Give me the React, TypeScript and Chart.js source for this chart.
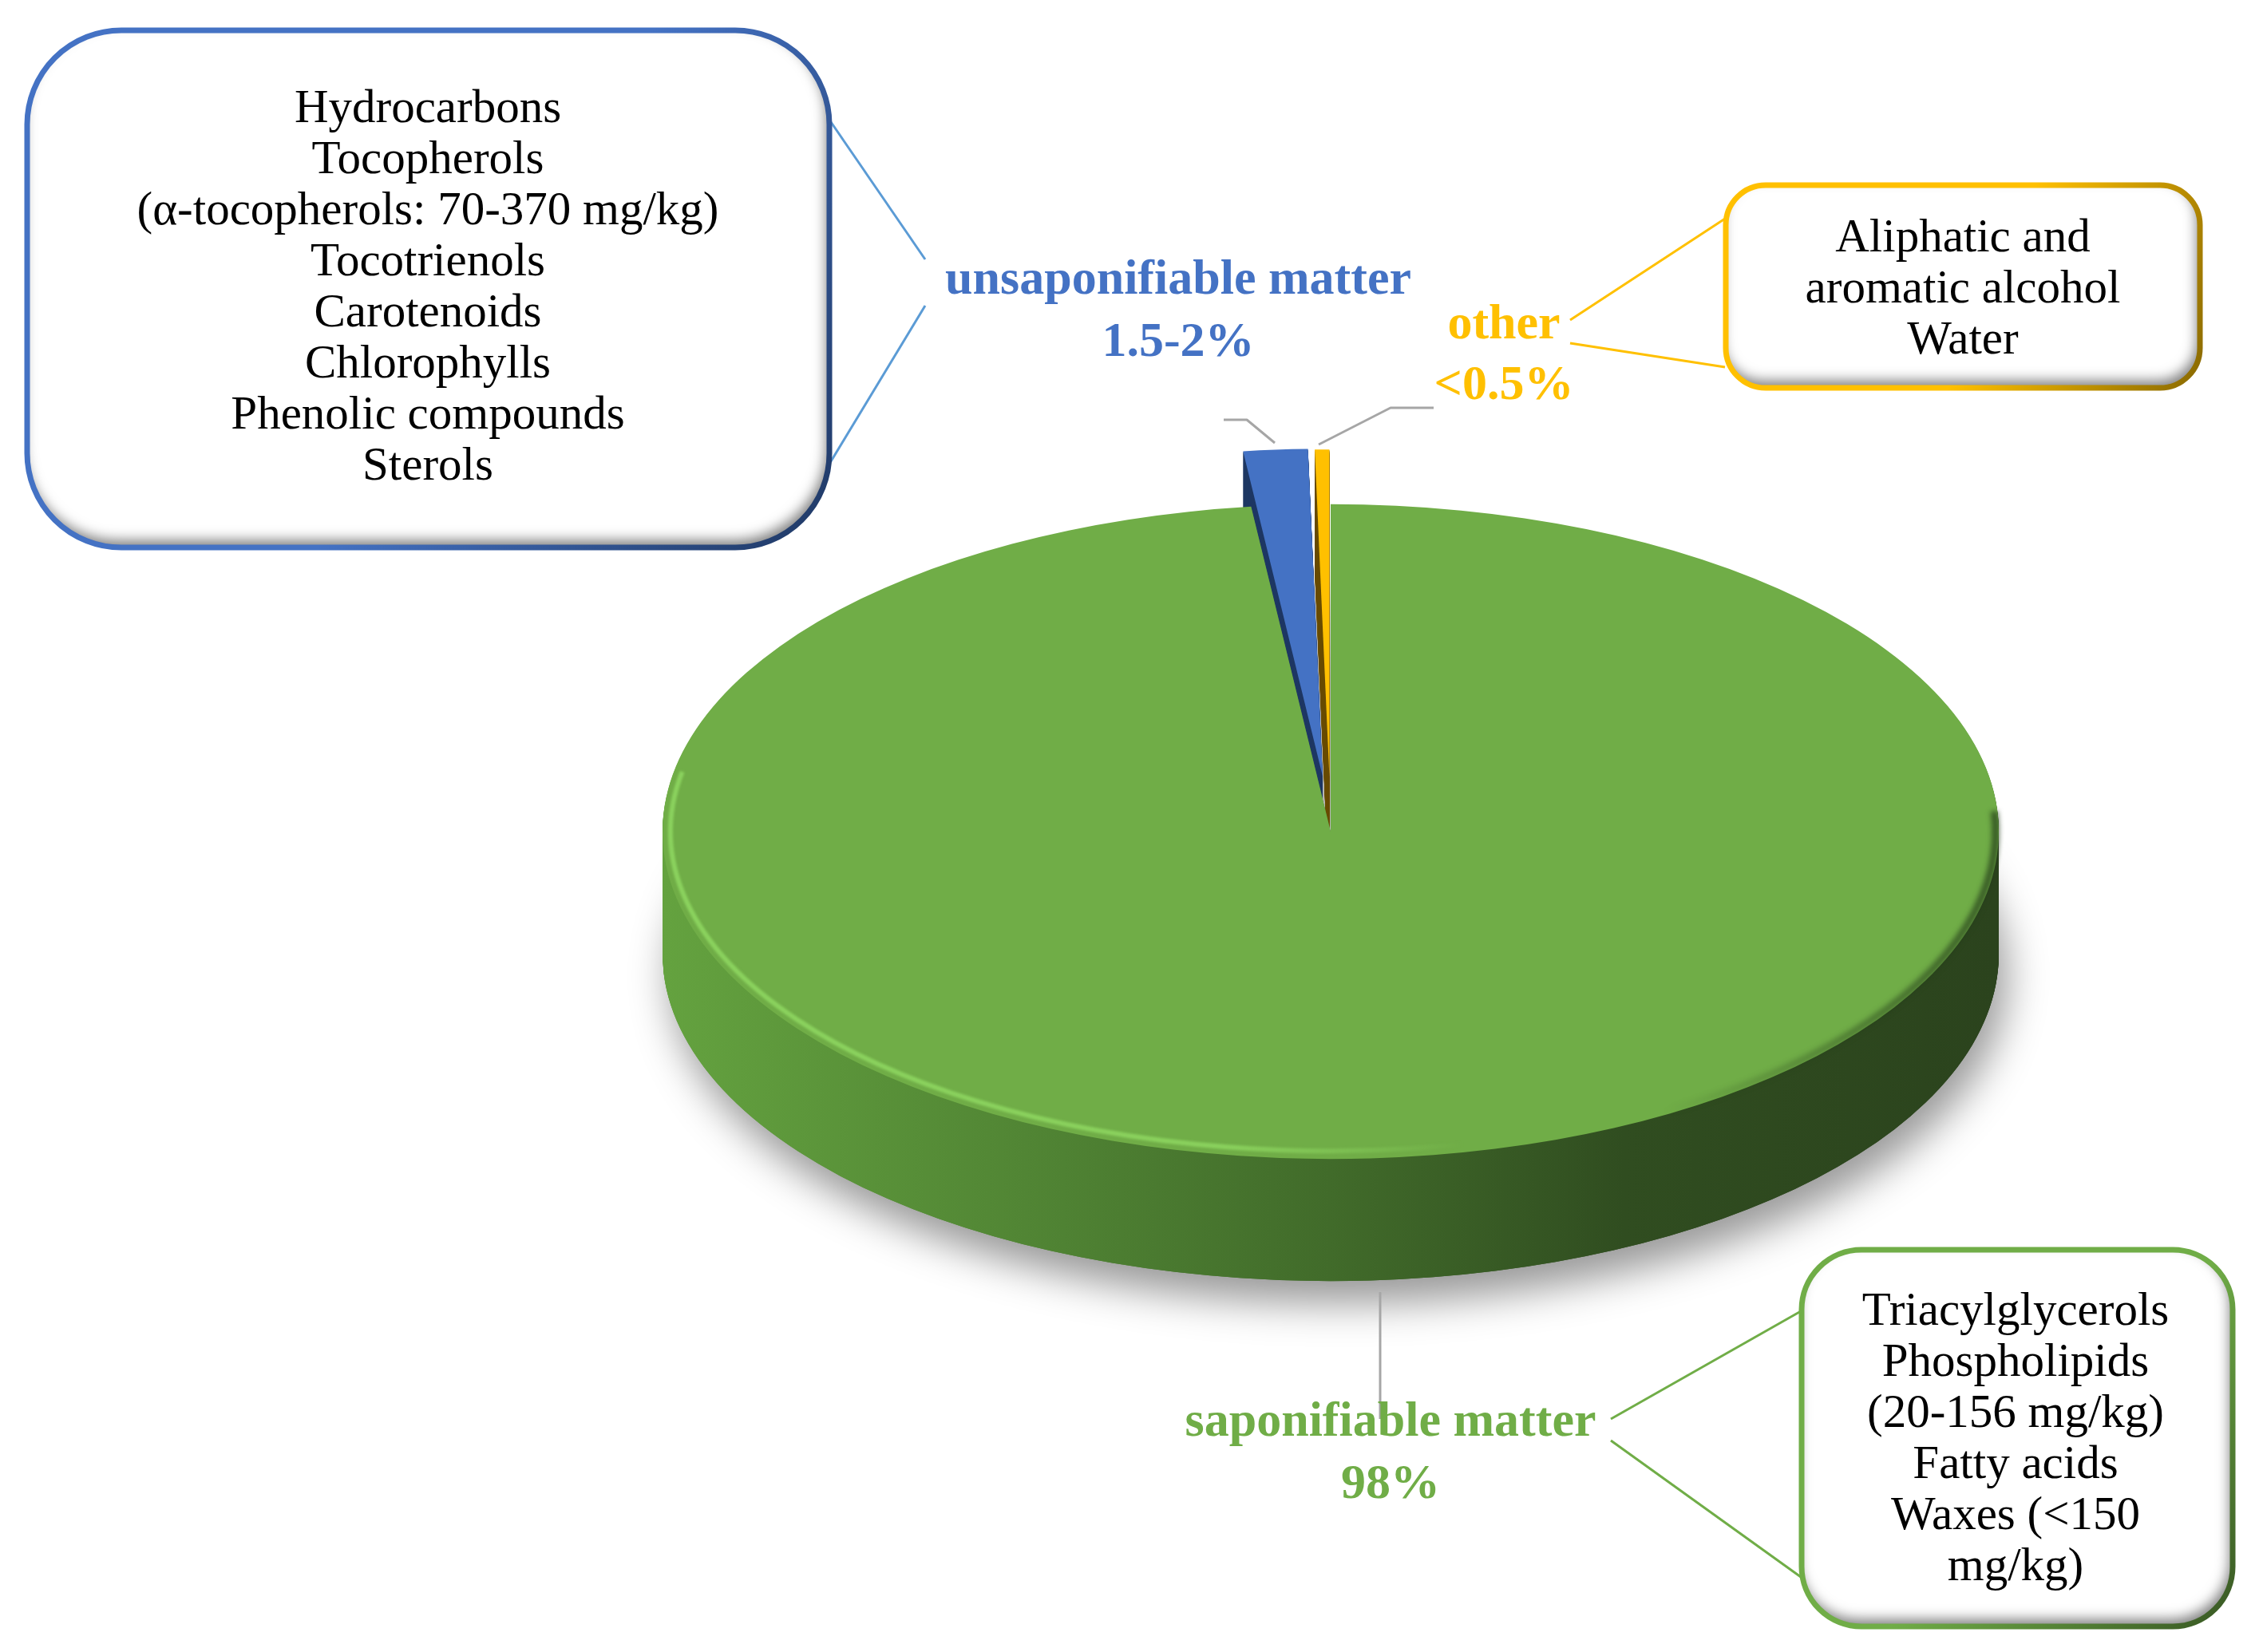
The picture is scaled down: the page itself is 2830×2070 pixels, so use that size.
import React, { useEffect, useRef } from 'react';
import { Chart, registerables } from 'chart.js';

Chart.register(...registerables);

// ---------------- data ----------------
const categories = ['saponifiable matter', 'unsaponifiable matter', 'other'];
const shares = [98.1, 1.55, 0.35];
const shareLabels = ['98%', '1.5-2%', '<0.5%'];
const saponifiableItems = ['Triacylglycerols', 'Phospholipids', '(20-156 mg/kg)', 'Fatty acids', 'Waxes (<150', 'mg/kg)'];
const unsaponifiableItems = [
  'Hydrocarbons',
  'Tocopherols',
  '(α-tocopherols: 70-370 mg/kg)',
  'Tocotrienols',
  'Carotenoids',
  'Chlorophylls',
  'Phenolic compounds',
  'Sterols',
];
const otherItems = ['Aliphatic and', 'aromatic alcohol', 'Water'];

// ---------------- styles ----------------
const W = 2830;
const H = 2070;
const TILT = 0.49;
const DEPTH = 153;
const FACE_CY = 1042;
const RADIUS = 837;
const explodeDist = [0, 142, 140];
const topColors = ['#70AD47', '#4472C4', '#FFC000'];
const labelColors = ['#70AD47', '#4472C4', '#FFC000'];
const SERIF = '"Liberation Serif", "Times New Roman", serif';
const BOX_FONT = `59px ${SERIF}`;
const LABEL_FONT = `bold 62px ${SERIF}`;

function drawBox(ctx: CanvasRenderingContext2D, x: number, y: number, w: number, h: number, rad: number, c1: string, c2: string) {
  ctx.save();
  ctx.beginPath();
  ctx.roundRect(x, y, w, h, rad);
  ctx.fillStyle = '#ffffff';
  ctx.fill();
  ctx.save();
  ctx.beginPath();
  ctx.roundRect(x, y, w, h, rad);
  ctx.clip();
  ctx.beginPath();
  ctx.rect(x - 300, y - 300, w + 600, h + 600);
  ctx.roundRect(x, y, w, h, rad);
  ctx.shadowColor = 'rgba(0,0,0,0.5)';
  ctx.shadowBlur = 16;
  ctx.shadowOffsetX = -4;
  ctx.shadowOffsetY = -9;
  ctx.fillStyle = '#000';
  ctx.fill('evenodd');
  ctx.restore();
  const g = ctx.createLinearGradient(x, y, x + w, y + h);
  g.addColorStop(0, c1);
  g.addColorStop(0.55, c1);
  g.addColorStop(1, c2);
  ctx.lineWidth = 7;
  ctx.strokeStyle = g;
  ctx.beginPath();
  ctx.roundRect(x, y, w, h, rad);
  ctx.stroke();
  ctx.restore();
}

function drawLines(ctx: CanvasRenderingContext2D, lines: string[], cx: number, y0: number, step: number, font: string, color: string) {
  ctx.save();
  ctx.font = font;
  ctx.fillStyle = color;
  ctx.textAlign = 'center';
  ctx.textBaseline = 'middle';
  lines.forEach((t, i) => ctx.fillText(t, cx, y0 + i * step));
  ctx.restore();
}

function polyline(ctx: CanvasRenderingContext2D, pts: number[][], color: string, width: number) {
  ctx.save();
  ctx.strokeStyle = color;
  ctx.lineWidth = width;
  ctx.lineJoin = 'round';
  ctx.beginPath();
  pts.forEach((p, i) => (i === 0 ? ctx.moveTo(p[0], p[1]) : ctx.lineTo(p[0], p[1])));
  ctx.stroke();
  ctx.restore();
}

const pie3d = {
  id: 'pie3d',
  beforeDatasetsDraw(chart: any) {
    const ctx: CanvasRenderingContext2D = chart.ctx;
    const arcs = chart.getDatasetMeta(0).data;
    const a0 = arcs[0];
    const cx = a0.x;
    const cy = a0.y;
    const r = a0.outerRadius;
    ctx.save();
    ctx.translate(0, FACE_CY);
    ctx.scale(1, TILT);
    ctx.translate(0, -cy);

    const gGreen = ctx.createLinearGradient(cx - r, 0, cx + r, 0);
    gGreen.addColorStop(0, '#64a23f');
    gGreen.addColorStop(0.3, '#4f8233');
    gGreen.addColorStop(0.5, '#416b2a');
    gGreen.addColorStop(0.72, '#304d20');
    gGreen.addColorStop(1, '#2b431d');
    const sideFills = [gGreen, '#1f3864', '#6b5000'];

    const drawArc = (arc: any, i: number, fill: any, d: number) => {
      const mid = (arc.startAngle + arc.endAngle) / 2;
      ctx.save();
      ctx.translate(Math.cos(mid) * explodeDist[i], Math.sin(mid) * explodeDist[i] + d / TILT);
      const orig = arc.options;
      arc.options = { ...orig, backgroundColor: fill, borderWidth: 0, offset: 0 };
      arc.draw(ctx);
      arc.options = orig;
      ctx.restore();
    };

    ctx.save();
    ctx.shadowColor = 'rgba(0,0,0,0.4)';
    ctx.shadowBlur = 50;
    ctx.shadowOffsetX = 10;
    ctx.shadowOffsetY = 28;
    arcs.forEach((arc: any, i: number) => drawArc(arc, i, sideFills[i], DEPTH));
    ctx.restore();
    for (let d = DEPTH; d >= 1; d -= 1) {
      arcs.forEach((arc: any, i: number) => drawArc(arc, i, sideFills[i], d));
    }
    arcs.forEach((arc: any, i: number) => drawArc(arc, i, arc.options.backgroundColor, 0));
    ctx.restore();

    // bevel highlights on the top face rim
    const ry = r * TILT;
    ctx.save();
    const g = ctx.createLinearGradient(cx - r, 0, cx + r, 0);
    g.addColorStop(0, 'rgba(140,212,95,0.95)');
    g.addColorStop(0.42, 'rgba(140,212,95,0.9)');
    g.addColorStop(0.6, 'rgba(140,212,95,0)');
    ctx.strokeStyle = g;
    ctx.lineWidth = 6;
    ctx.filter = 'blur(1.5px)';
    ctx.beginPath();
    ctx.ellipse(cx, FACE_CY, r - 10, ry - 10, 0, Math.PI * 0.3, Math.PI * 1.06);
    ctx.stroke();
    const g2 = ctx.createLinearGradient(cx - r, 0, cx + r, 0);
    g2.addColorStop(0.75, 'rgba(35,60,25,0)');
    g2.addColorStop(1, 'rgba(35,60,25,0.75)');
    ctx.strokeStyle = g2;
    ctx.lineWidth = 9;
    ctx.filter = 'blur(3px)';
    ctx.beginPath();
    ctx.ellipse(cx, FACE_CY, r - 4, ry - 4, 0, -Math.PI * 0.02, Math.PI * 0.45);
    ctx.stroke();
    ctx.restore();
    return false;
  },
  afterDraw(chart: any) {
    const ctx: CanvasRenderingContext2D = chart.ctx;
    // leader lines
    polyline(ctx, [[1597, 555], [1562, 526], [1533, 526]], '#A6A6A6', 3);
    polyline(ctx, [[1652, 557], [1742, 511], [1796, 511]], '#A6A6A6', 3);
    polyline(ctx, [[1729, 1619], [1729, 1778]], '#A6A6A6', 3);

    // callout connectors
    polyline(ctx, [[1041, 153], [1159, 325]], '#5B9BD5', 3);
    polyline(ctx, [[1041, 578], [1159, 383]], '#5B9BD5', 3);
    polyline(ctx, [[2161, 274], [1967, 401]], '#FFC000', 3);
    polyline(ctx, [[2161, 460], [1967, 430]], '#FFC000', 3);
    polyline(ctx, [[2256, 1643], [2018, 1778]], '#70AD47', 3);
    polyline(ctx, [[2256, 1976], [2018, 1805]], '#70AD47', 3);

    // boxes
    drawBox(ctx, 34, 38, 1005, 648, 118, '#4472C4', '#1F3864');
    drawBox(ctx, 2162, 232, 594, 254, 50, '#FFC000', '#8A6A00');
    drawBox(ctx, 2257, 1566, 540, 472, 75, '#70AD47', '#385723');
    drawLines(ctx, unsaponifiableItems, 536, 137, 64, BOX_FONT, '#000');
    drawLines(ctx, otherItems, 2459, 299, 64, BOX_FONT, '#000');
    drawLines(ctx, saponifiableItems, 2525, 1644, 64, BOX_FONT, '#000');

    // category labels
    drawLines(ctx, [categories[1], shareLabels[1]], 1476, 352, 78, LABEL_FONT, labelColors[1]);
    drawLines(ctx, [categories[2], shareLabels[2]], 1884, 408, 76, LABEL_FONT, labelColors[2]);
    drawLines(ctx, [categories[0], shareLabels[0]], 1742, 1783, 78, LABEL_FONT, labelColors[0]);
  },
};

export default function App() {
  const ref = useRef<HTMLCanvasElement>(null);
  useEffect(() => {
    const chart = new Chart(ref.current as HTMLCanvasElement, {
      type: 'pie',
      data: {
        labels: categories,
        datasets: [
          {
            data: shares,
            backgroundColor: topColors,
            borderWidth: 0,
            radius: RADIUS,
            clip: false,
          } as any,
        ],
      },
      options: {
        responsive: false,
        animation: false,
        events: [],
        layout: { padding: { left: 504, right: 0, top: 0, bottom: 0 } },
        plugins: { legend: { display: false }, tooltip: { enabled: false } },
      },
      plugins: [pie3d],
    });
    return () => chart.destroy();
  }, []);
  return (
    <div style={{ position: 'absolute', left: 0, top: 0, width: W, height: H, background: '#ffffff' }}>
      <canvas ref={ref} width={W} height={H} style={{ display: 'block', width: W, height: H }} />
    </div>
  );
}
